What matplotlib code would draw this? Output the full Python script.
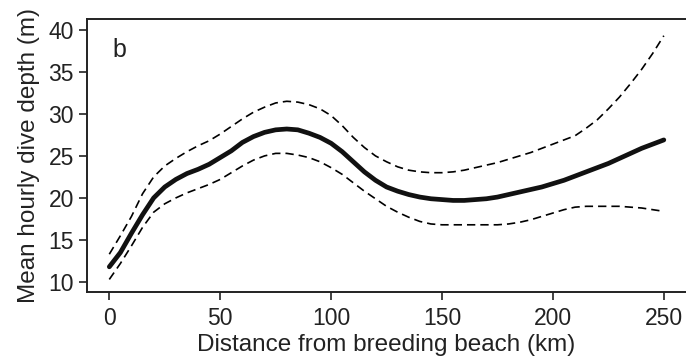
import matplotlib
matplotlib.use("Agg")
import matplotlib.pyplot as plt

plt.rcParams['font.family'] = ['Liberation Sans', 'DejaVu Sans']

# distance from breeding beach (km)
distance = [0, 5, 10, 15, 20, 25, 30, 35, 40, 45, 50, 55, 60, 65, 70, 75, 80, 85, 90, 95,
            100, 105, 110, 115, 120, 125, 130, 135, 140, 145, 150, 155, 160, 165, 170, 175,
            180, 185, 190, 195, 200, 205, 210, 215, 220, 225, 230, 235, 240, 245, 250]

# fitted mean hourly dive depth (m)
mean_depth = [11.8, 13.5, 15.8, 18.0, 20.0, 21.3, 22.2, 22.9, 23.4, 24.0, 24.8, 25.6, 26.6, 27.3,
              27.8, 28.1, 28.2, 28.1, 27.7, 27.2, 26.5, 25.5, 24.3, 23.1, 22.1, 21.3, 20.8, 20.4,
              20.1, 19.9, 19.8, 19.7, 19.7, 19.8, 19.9, 20.1, 20.4, 20.7, 21.0, 21.3, 21.7, 22.1,
              22.6, 23.1, 23.6, 24.1, 24.7, 25.3, 25.9, 26.4, 26.9]

# upper and lower confidence bounds
upper = [13.3, 15.5, 17.8, 20.5, 22.5, 23.8, 24.7, 25.5, 26.2, 26.8, 27.6, 28.5, 29.4, 30.2,
         30.8, 31.3, 31.5, 31.4, 31.1, 30.6, 29.8, 28.6, 27.2, 26.0, 25.0, 24.3, 23.7, 23.3,
         23.1, 23.0, 23.0, 23.1, 23.3, 23.6, 23.9, 24.2, 24.6, 25.0, 25.4, 25.9, 26.4, 26.9,
         27.4, 28.3, 29.3, 30.6, 32.0, 33.6, 35.3, 37.2, 39.3]
lower = [10.3, 12.2, 14.3, 16.5, 18.3, 19.3, 20.0, 20.6, 21.1, 21.6, 22.2, 23.0, 23.8, 24.5,
         25.0, 25.3, 25.3, 25.1, 24.8, 24.3, 23.6, 22.8, 21.8, 20.8, 19.9, 19.0, 18.3, 17.7,
         17.2, 16.9, 16.8, 16.8, 16.8, 16.8, 16.8, 16.8, 16.9, 17.1, 17.4, 17.8, 18.2, 18.6,
         18.9, 19.0, 19.0, 19.0, 19.0, 18.9, 18.8, 18.6, 18.4]

fig = plt.figure(figsize=(6.86, 3.57), dpi=100)
ax = fig.add_axes([0.127, 0.182, 0.873, 0.765])

ax.plot(distance, upper, color='black', lw=1.2, ls=(0, (5, 3)))
ax.plot(distance, lower, color='black', lw=1.2, ls=(0, (5, 3)))
ax.plot(distance, mean_depth, color='#111111', lw=3.4, solid_capstyle='round')

ax.set_xlim(-10, 260)
ax.set_ylim(8.8, 41.3)
ax.set_xticks([0, 50, 100, 150, 200, 250])
ax.set_yticks([10, 15, 20, 25, 30, 35, 40])
for s in ax.spines.values():
    s.set_linewidth(1.4)
    s.set_color('#222222')
ax.spines['right'].set_visible(False)
ax.tick_params(direction='out', length=6, width=1.2, labelsize=16.5, colors='#222222')
ax.tick_params(axis='y', pad=3.5)
ax.tick_params(axis='x', pad=5)

ax.set_xlabel('Distance from breeding beach (km)', fontsize=17.5, color='#222222', labelpad=3)
ax.set_ylabel('Mean hourly dive depth (m)', fontsize=17.5, color='#222222', labelpad=6)
ax.text(0.043, 0.93, 'b', transform=ax.transAxes, fontsize=18, va='top', color='#222222')

fig.savefig('out.png', dpi=100)
